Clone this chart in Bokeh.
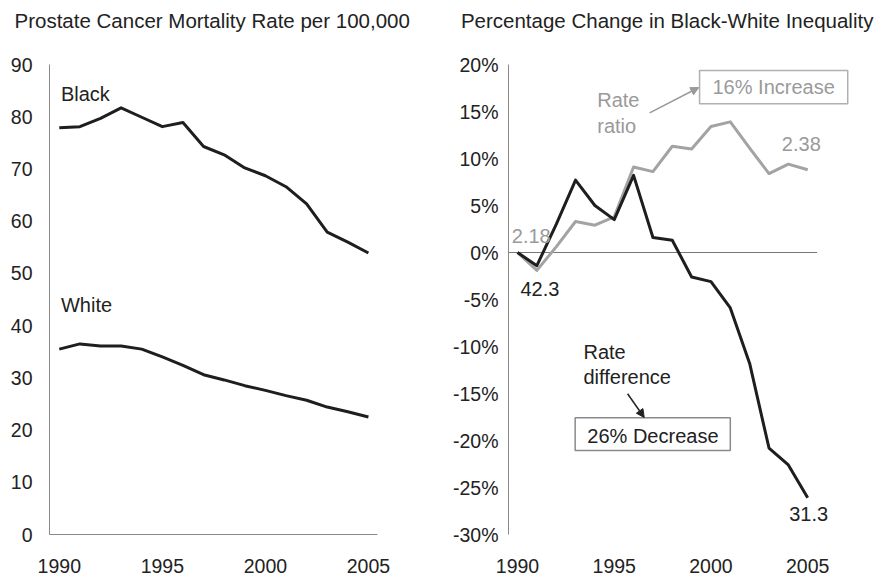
from bokeh.plotting import figure
from bokeh.layouts import row
from bokeh.models import Range1d, FixedTicker, PrintfTickFormatter, Arrow, NormalHead, Title
from bokeh.core.properties import value
from bokeh.embed import file_html
from bokeh.resources import INLINE

# ---------------- data ----------------
years = list(range(1990, 2006))
black_rate = [77.9, 78.1, 79.7, 81.7, 79.9, 78.1, 78.9, 74.3, 72.7, 70.2, 68.7, 66.6, 63.3, 57.9, 56.0, 53.9]
white_rate = [35.5, 36.5, 36.1, 36.1, 35.5, 34.0, 32.4, 30.6, 29.6, 28.5, 27.6, 26.6, 25.7, 24.4, 23.5, 22.5]
ratio_change = [0.0, -1.9, 0.6, 3.3, 2.9, 3.8, 9.1, 8.6, 11.3, 11.0, 13.4, 13.9, 11.1, 8.4, 9.4, 8.8]
diff_change = [0.0, -1.4, 3.0, 7.7, 5.0, 3.5, 8.2, 1.6, 1.3, -2.6, -3.1, -5.9, -11.8, -20.8, -22.6, -26.1]
x_ticks = [1990, 1995, 2000, 2005]
left_ticks = [0, 10, 20, 30, 40, 50, 60, 70, 80, 90]
right_ticks = [-30, -25, -20, -15, -10, -5, 0, 5, 10, 15, 20]

FONT = "Liberation Sans"
DARK = "#1e1e1e"
GRAY = "#a3a3a3"
TXT = "#222222"
GTXT = "#9a9a9a"


def style(p, yticks, ystandoff, title, toffset, bottom_line=True):
    p.xgrid.visible = False
    p.ygrid.visible = False
    p.outline_line_color = None
    p.background_fill_color = "white"
    p.border_fill_color = "white"
    for ax in p.axis:
        ax.major_tick_line_color = None
        ax.minor_tick_line_color = None
        ax.major_tick_out = 0
        ax.major_tick_in = 0
        ax.major_label_text_font = FONT
        ax.major_label_text_font_size = "19.5px"
        ax.major_label_text_color = TXT
        ax.axis_line_color = "#8a8a8a"
        ax.axis_line_width = 1
    p.xaxis.ticker = FixedTicker(ticks=x_ticks)
    p.xaxis.major_label_standoff = 24
    if not bottom_line:
        p.xaxis.axis_line_color = None
    p.yaxis.ticker = FixedTicker(ticks=yticks)
    p.yaxis.major_label_standoff = ystandoff
    # spacer between frame and title, then the title itself
    p.add_layout(Title(text=" ", text_font_size="1px", standoff=23), "above")
    p.add_layout(Title(text=title, align="left", vertical_align="top", offset=toffset,
                       standoff=10, text_font=FONT, text_font_size="20.5px",
                       text_font_style="normal", text_color=TXT), "above")


# ---------------- left panel ----------------
p1 = figure(width=440, height=581, x_range=Range1d(1989.525, 2005.44), y_range=Range1d(0, 90),
            output_backend="svg", toolbar_location=None, title=None,
            min_border_left=49, min_border_right=63, min_border_top=64, min_border_bottom=47)
style(p1, left_ticks, 17, "Prostate Cancer Mortality Rate per 100,000", -35)
p1.line(years, black_rate, line_color=DARK, line_width=3, line_join="round")
p1.line(years, white_rate, line_color=DARK, line_width=3, line_join="round")
p1.text(x=[1990.08, 1990.08], y=[84.4, 44.0], text=["Black", "White"],
        text_align="left", text_baseline="middle", text_font=value(FONT),
        text_font_size="20px", text_color=TXT)

# ---------------- right panel ----------------
p2 = figure(width=440, height=581, x_range=Range1d(1989.534, 2007.73), y_range=Range1d(-30, 20),
            output_backend="svg", toolbar_location=None, title=None,
            min_border_left=68, min_border_right=20, min_border_top=64, min_border_bottom=47)
style(p2, right_ticks, 10, "Percentage Change in Black-White Inequality", -47.6, bottom_line=False)
p2.yaxis.formatter = PrintfTickFormatter(format="%d%%")

# zero reference line
p2.segment(x0=[1989.534], y0=[0], x1=[2005.49], y1=[0], line_color="#777777", line_width=1)

p2.line(years, ratio_change, line_color=GRAY, line_width=3, line_join="round")
p2.line(years, diff_change, line_color=DARK, line_width=3, line_join="round")

# boxes
p2.quad(left=[1999.41], right=[2007.07], bottom=[15.82], top=[19.36],
        fill_color=None, line_color="#b0b0b0", line_width=1.5)
p2.quad(left=[1992.98], right=[2001.0], bottom=[-21.06], top=[-17.59],
        fill_color=None, line_color="#8a8a8a", line_width=1.5)

# arrows
p2.add_layout(Arrow(end=NormalHead(size=8, fill_color="#999999", line_color="#999999"),
                    x_start=1996.83, y_start=14.86, x_end=1999.37, y_end=17.55,
                    line_color="#999999", line_width=1.5))
p2.add_layout(Arrow(end=NormalHead(size=8, fill_color="#222222", line_color="#222222"),
                    x_start=1995.69, y_start=-15.03, x_end=1996.55, y_end=-17.55,
                    line_color="#222222", line_width=1.5))

# gray texts
p2.text(x=[1990.71, 2004.67, 2003.24], y=[1.8, 11.56, 17.59],
        text=["2.18", "2.38", "16% Increase"],
        text_align="center", text_baseline="middle", text_font=value(FONT),
        text_font_size="20px", text_color=GTXT)
p2.text(x=[1994.12, 1994.12], y=[16.2, 13.5], text=["Rate", "ratio"],
        text_align="left", text_baseline="middle", text_font=value(FONT),
        text_font_size="20px", text_color=GTXT)
# dark texts
p2.text(x=[1991.16, 2005.05, 1997.0], y=[-3.86, -27.8, -19.57],
        text=["42.3", "31.3", "26% Decrease"],
        text_align="center", text_baseline="middle", text_font=value(FONT),
        text_font_size="20px", text_color=TXT)
p2.text(x=[1993.41, 1993.41], y=[-10.6, -13.27], text=["Rate", "difference"],
        text_align="left", text_baseline="middle", text_font=value(FONT),
        text_font_size="20px", text_color=TXT)

layout = row(p1, p2)
open("out.html", "w").write(file_html(layout, INLINE))
